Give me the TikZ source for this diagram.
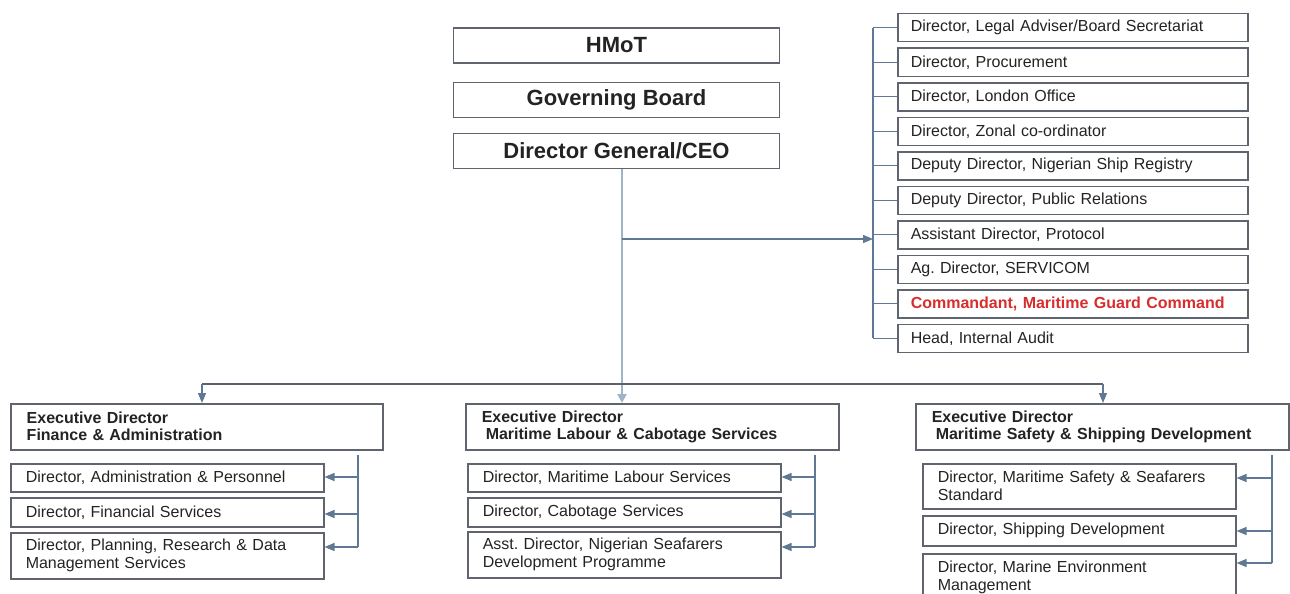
\documentclass[tikz,border=0pt]{standalone}
\usepackage{fontspec}
\setmainfont{Liberation Sans}
\usetikzlibrary{positioning,calc,arrows.meta}
\definecolor{boxgray}{RGB}{95,100,110}
\definecolor{linkblue}{RGB}{95,120,148}
\definecolor{trunkblue}{RGB}{160,180,200}
\definecolor{bargray}{RGB}{90,96,108}
\definecolor{guardred}{RGB}{215,45,45}
\definecolor{txtgray}{RGB}{35,35,35}
\frenchspacing
\tikzset{
	topbox/.style={draw=boxgray, line width=1.5pt, minimum width=326pt, minimum height=35pt, font=\fontsize{22}{24}\selectfont\bfseries, text=txtgray},
	unitbox/.style={draw=boxgray, line width=1.5pt, anchor=north west, minimum height=28pt, text width=324pt, inner xsep=13pt, inner ysep=0pt, align=left, font=\fontsize{16}{18}\selectfont, text=txtgray},
	execbox/.style={draw=boxgray, line width=1.5pt, anchor=north west, minimum height=46pt, inner xsep=16pt, inner ysep=0pt, align=left, font=\fontsize{16}{17}\selectfont\bfseries, text=txtgray},
	subbox/.style={draw=boxgray, line width=1.5pt, anchor=north west, text width=283pt, inner xsep=15pt, inner ysep=0pt, align=left, font=\fontsize{16}{18}\selectfont, text=txtgray},
	link/.style={draw=linkblue, line width=1.3pt},
	linkarr/.style={link, -{Triangle[length=10pt,width=8pt]}},
	trunk/.style={draw=trunkblue, line width=2.8pt},
}

\begin{document}
\begin{tikzpicture}[x=1pt, y=-1pt]
	\useasboundingbox (0,0) rectangle (1290,594);
	\clip (0,0) rectangle (1290,594);

	\node[topbox] (hmot) at (616.5, 45.5) {HMoT};
	\node[topbox] (board) at (616.5, 100) {Governing Board};
	\node[topbox] (dg) at (616.5, 151) {Director General/CEO};

	\node[unitbox] (legal) at (897, 13) {Director, Legal Adviser/Board Secretariat};
	\node[unitbox] (procure) at (897, 47.5) {Director, Procurement};
	\node[unitbox] (london) at (897, 82) {Director, London Office};
	\node[unitbox] (zonal) at (897, 116.5) {Director, Zonal co-ordinator};
	\node[unitbox] (registry) at (897, 151) {Deputy Director, Nigerian Ship Registry};
	\node[unitbox] (pr) at (897, 185.5) {Deputy Director, Public Relations};
	\node[unitbox] (protocol) at (897, 220) {Assistant Director, Protocol};
	\node[unitbox] (servicom) at (897, 254.5) {Ag. Director, SERVICOM};
	\node[unitbox, text=guardred, font=\fontsize{16}{18}\selectfont\bfseries] (guard) at (897, 289) {Commandant, Maritime Guard Command};
	\node[unitbox] (audit) at (897, 323.5) {Head, Internal Audit};

	\node[execbox, text width=340pt] (fa) at (10, 403) {Executive Director\\Finance \& Administration};
	\node[execbox, text width=341pt] (mlc) at (465, 403) {Executive Director\\\hspace*{4pt}Maritime Labour \& Cabotage Services};
	\node[execbox, text width=341pt] (mssd) at (915, 403) {Executive Director\\\hspace*{4pt}Maritime Safety \& Shipping Development};

	\node[subbox, minimum height=28pt] (adminpers) at (10, 463) {Director, Administration \& Personnel};
	\node[subbox, minimum height=29pt] (finserv) at (10, 497) {Director, Financial Services};
	\node[subbox, minimum height=46pt] (planning) at (10, 532) {Director, Planning, Research \& Data\\Management Services};

	\node[subbox, minimum height=28pt] (labour) at (467, 463) {Director, Maritime Labour Services};
	\node[subbox, minimum height=29pt] (cabotage) at (467, 497) {Director, Cabotage Services};
	\node[subbox, minimum height=46pt] (seafarers) at (467, 531) {Asst. Director, Nigerian Seafarers\\Development Programme};

	\node[subbox, minimum height=45pt] (safety) at (922, 463) {Director, Maritime Safety \& Seafarers\\Standard};
	\node[subbox, minimum height=30pt] (shipping) at (922, 515) {Director, Shipping Development};
	\node[subbox, minimum height=48pt] (environ) at (922, 553) {Director, Marine Environment\\Management};

	\coordinate (split) at (622, 239);
	\coordinate (rbar) at (873, 239);
	\coordinate (hub) at (622, 384);
	\coordinate (hleft) at (202, 384);
	\coordinate (hright) at (1103, 384);

	\draw[trunk] (dg.south -| hub) -- (hub);
	\draw[trunk, -{Triangle[length=9pt,width=9pt]}] (hub) -- (hub |- mlc.north);
	\draw[linkarr] (split) -- (rbar);

	\draw[link] (legal.west -| rbar) -- (audit.west -| rbar);
	\draw[link] (legal.west -| rbar) -- (legal.west);
	\draw[link] (procure.west -| rbar) -- (procure.west);
	\draw[link] (london.west -| rbar) -- (london.west);
	\draw[link] (zonal.west -| rbar) -- (zonal.west);
	\draw[link] (registry.west -| rbar) -- (registry.west);
	\draw[link] (pr.west -| rbar) -- (pr.west);
	\draw[link] (protocol.west -| rbar) -- (protocol.west);
	\draw[link] (servicom.west -| rbar) -- (servicom.west);
	\draw[link] (guard.west -| rbar) -- (guard.west);
	\draw[link] (audit.west -| rbar) -- (audit.west);

	\draw[draw=bargray, line width=1.6pt] (hleft) -- (hright);
	\draw[linkarr] (hleft) -- (hleft |- fa.north);
	\draw[linkarr] (hright) -- (hright |- mssd.north);

	\coordinate (fatop) at (358, 455);
	\coordinate (fa1) at (358, 477);
	\coordinate (fa2) at (358, 514);
	\coordinate (fa3) at (358, 547);
	\draw[link] (fatop) -- (fa3);
	\draw[linkarr] (fa1) -- (fa1 -| adminpers.east);
	\draw[linkarr] (fa2) -- (fa2 -| finserv.east);
	\draw[linkarr] (fa3) -- (fa3 -| planning.east);

	\coordinate (mlctop) at (815, 455);
	\coordinate (mlc1) at (815, 477);
	\coordinate (mlc2) at (815, 514);
	\coordinate (mlc3) at (815, 547);
	\draw[link] (mlctop) -- (mlc3);
	\draw[linkarr] (mlc1) -- (mlc1 -| labour.east);
	\draw[linkarr] (mlc2) -- (mlc2 -| cabotage.east);
	\draw[linkarr] (mlc3) -- (mlc3 -| seafarers.east);

	\coordinate (msstop) at (1272, 455);
	\coordinate (mss1) at (1272, 478);
	\coordinate (mss2) at (1272, 531);
	\coordinate (mss3) at (1272, 563);
	\draw[link] (msstop) -- (mss3);
	\draw[linkarr] (mss1) -- (mss1 -| safety.east);
	\draw[linkarr] (mss2) -- (mss2 -| shipping.east);
	\draw[linkarr] (mss3) -- (mss3 -| environ.east);
\end{tikzpicture}
\end{document}
